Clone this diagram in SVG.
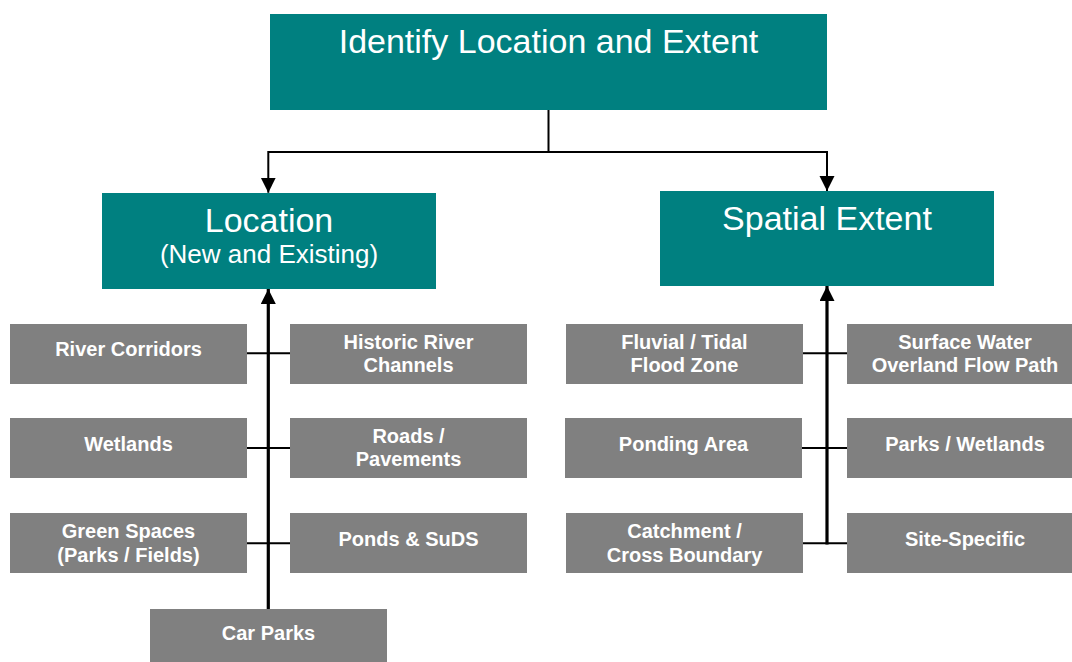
<svg xmlns="http://www.w3.org/2000/svg" width="1072" height="662" viewBox="0 0 1072 662">
<style>
.teal{fill:#008080}
.grey{fill:#808080}
.tt{font-family:"Liberation Sans",Arial,sans-serif;fill:#ffffff;text-anchor:middle}
.big{font-size:34px}
.sub{font-size:26px}
.lbl{font-size:20px;font-weight:bold}
.ln{fill:none;stroke:#000000;stroke-width:2}
.spine{fill:none;stroke:#000000;stroke-width:3.2}
</style>
<defs>
<marker id="arr" markerUnits="userSpaceOnUse" markerWidth="16" markerHeight="16" refX="15" refY="7.5" orient="auto">
<path d="M0,0 L15,7.5 L0,15 z" fill="#000000"/>
</marker>
</defs>
<rect width="1072" height="662" fill="#ffffff"/>
<g id="connectors">
<path class="ln" d="M548.5,110 V152 H268.3 V192.7" marker-end="url(#arr)"/>
<path class="ln" d="M548.5,152 H827 V191" marker-end="url(#arr)"/>
<path class="spine" d="M268.3,609 V289" marker-end="url(#arr)"/>
<path class="spine" d="M827,544.5 V286" marker-end="url(#arr)"/>
<path class="ln" d="M247,353.3 H290 M247,448 H290 M247,543.3 H290"/>
<path class="ln" d="M803,353.3 H847 M802,448 H847 M803,543.3 H847"/>
</g>
<g id="n-top">
<rect class="teal" x="270" y="14" width="557" height="96"/>
<text class="tt big" x="548.5" y="53.3">Identify Location and Extent</text>
</g>
<g id="n-location">
<rect class="teal" x="102" y="193" width="334" height="96"/>
<text class="tt big" x="269" y="232">Location</text>
<text class="tt sub" x="269" y="263">(New and Existing)</text>
</g>
<g id="n-spatial">
<rect class="teal" x="660" y="191" width="334" height="95"/>
<text class="tt big" x="827" y="230">Spatial Extent</text>
</g>
<g id="n-river">
<rect class="grey" x="10" y="324" width="237" height="60"/>
<text class="tt lbl" x="128.5" y="355.7">River Corridors</text>
</g>
<g id="n-historic">
<rect class="grey" x="290" y="324" width="237" height="60"/>
<text class="tt lbl" x="408.5" y="349">Historic River</text>
<text class="tt lbl" x="408.5" y="371.7">Channels</text>
</g>
<g id="n-wetlands">
<rect class="grey" x="10" y="418" width="237" height="60"/>
<text class="tt lbl" x="128.5" y="450.7">Wetlands</text>
</g>
<g id="n-roads">
<rect class="grey" x="290" y="418" width="237" height="60"/>
<text class="tt lbl" x="408.5" y="443.3">Roads /</text>
<text class="tt lbl" x="408.5" y="465.7">Pavements</text>
</g>
<g id="n-green">
<rect class="grey" x="10" y="513" width="237" height="60"/>
<text class="tt lbl" x="128.5" y="538.3">Green Spaces</text>
<text class="tt lbl" x="128.5" y="561.7">(Parks / Fields)</text>
</g>
<g id="n-ponds">
<rect class="grey" x="290" y="513" width="237" height="60"/>
<text class="tt lbl" x="408.5" y="545.7">Ponds &amp; SuDS</text>
</g>
<g id="n-carparks">
<rect class="grey" x="150" y="609" width="237" height="54"/>
<text class="tt lbl" x="268.5" y="640">Car Parks</text>
</g>
<g id="n-fluvial">
<rect class="grey" x="566" y="324" width="237" height="60"/>
<text class="tt lbl" x="684.5" y="349">Fluvial / Tidal</text>
<text class="tt lbl" x="684.5" y="371.7">Flood Zone</text>
</g>
<g id="n-surface">
<rect class="grey" x="847" y="324" width="237" height="60"/>
<text class="tt lbl" x="965" y="349">Surface Water</text>
<text class="tt lbl" x="965" y="371.7">Overland Flow Path</text>
</g>
<g id="n-ponding">
<rect class="grey" x="565" y="418" width="237" height="60"/>
<text class="tt lbl" x="683.5" y="450.7">Ponding Area</text>
</g>
<g id="n-parkswet">
<rect class="grey" x="847" y="418" width="237" height="60"/>
<text class="tt lbl" x="965" y="450.7">Parks / Wetlands</text>
</g>
<g id="n-catchment">
<rect class="grey" x="566" y="513" width="237" height="60"/>
<text class="tt lbl" x="684.5" y="538.3">Catchment /</text>
<text class="tt lbl" x="684.5" y="561.7">Cross Boundary</text>
</g>
<g id="n-site">
<rect class="grey" x="847" y="513" width="237" height="60"/>
<text class="tt lbl" x="965" y="545.7">Site-Specific</text>
</g>
</svg>
